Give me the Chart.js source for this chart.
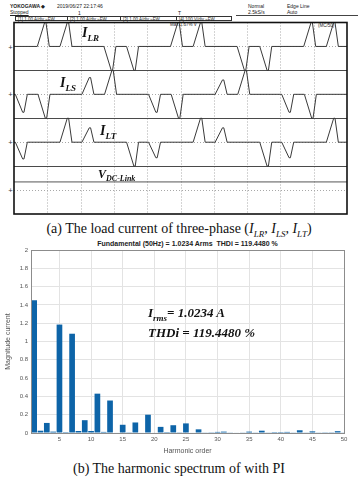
<!DOCTYPE html>
<html>
<head>
<meta charset="utf-8">
<script src="https://cdn.jsdelivr.net/npm/chart.js@4.4.0/dist/chart.umd.min.js"></script>
<style>
  html, body { margin: 0; padding: 0; background: #fff; }
  #page { position: relative; width: 358px; height: 480px; overflow: hidden; background: #fff; }
  .t { position: absolute; white-space: nowrap; line-height: 1; }
  .hdr { font-family: "Liberation Sans", Arial, sans-serif; font-size: 5px; color: #222; }
  .chbox { position: absolute; top: 16px; height: 5px; border: 1px solid #333; font-family: "Liberation Sans", Arial, sans-serif; font-size: 4.5px; line-height: 5px; padding-left: 2px; color: #222; white-space: nowrap; box-sizing: border-box; }
  .cap { font-family: "Liberation Serif", "Times New Roman", serif; font-size: 14px; color: #111; }
  .cap i sub { font-size: 9px; line-height: 0; }
  .lbl { font-family: "Liberation Serif", "Times New Roman", serif; font-weight: bold; font-style: italic; color: #111; font-size: 14px; }
  .lbl sub { font-size: 9px; line-height: 0; }
  .mk { font-family: "DejaVu Sans", sans-serif; font-size: 6px; color: #333; }
  canvas { position: absolute; }
</style>
</head>
<body>
<div id="page">
  <!-- oscilloscope header -->
  <div class="t hdr" style="left:10px;top:4px;font-weight:bold;">YOKOGAWA &#9670;</div>
  <div class="t hdr" style="left:57px;top:4px;">2019/06/27 22:17:46</div>
  <div class="t hdr" style="left:10px;top:10px;text-decoration:underline;">Stopped</div>
  <div class="t hdr" style="left:78px;top:11px;">1</div>
  <div class="t hdr" style="left:178px;top:11px;">T</div>
  <div class="t hdr" style="left:248px;top:4px;">Normal</div>
  <div class="t hdr" style="left:248px;top:10px;">2.5kS/s</div>
  <div class="t hdr" style="left:287px;top:4px;">Edge Line</div>
  <div class="t hdr" style="left:287px;top:10px;">Auto</div>
  <div style="position:absolute;left:236px;top:15px;width:122px;height:1px;background:#444;"></div>
  <div class="chbox" style="left:15px;width:53px;">[1] 1.00 A/div &#8776;FW</div>
  <div class="chbox" style="left:67px;width:54px;">[2] 1.00 A/div &#8776;FW</div>
  <div class="chbox" style="left:120px;width:57px;">[3] 1.00 A/div &#8776;FW</div>
  <div class="chbox" style="left:176px;width:56px;">[4] 100 V/div &#8776;FW</div>
  <div class="t hdr" style="left:170px;top:23px;font-size:4.5px;">Max 1.67% V</div>
  <div class="t hdr" style="left:318px;top:24px;font-size:4.5px;">(MC/50)</div>

  <div class="t mk" style="left:8px;top:44px;">+</div>
  <div class="t mk" style="left:8px;top:91px;">+</div>
  <div class="t mk" style="left:8px;top:139px;">+</div>
  <div class="t mk" style="left:8px;top:187px;">+</div>

  <canvas id="scope" width="336" height="195" style="left:13px;top:21px;"></canvas>

  <div class="t lbl" style="left:82px;top:26px;">I<sub>LR</sub></div>
  <div class="t lbl" style="left:60px;top:76px;">I<sub>LS</sub></div>
  <div class="t lbl" style="left:100px;top:124px;">I<sub>LT</sub></div>
  <div class="t lbl" style="left:98px;top:168px;font-size:12px;">V<sub style="font-size:8px;">DC-Link</sub></div>

  <div class="t cap" style="left:0;width:358px;text-align:center;top:222px;">(a) The load current of three-phase (<i>I<sub>LR</sub>, I<sub>LS</sub>, I<sub>LT</sub></i>)</div>

  <!-- harmonic spectrum -->
  <div class="t" style="left:31px;width:313px;text-align:center;top:240px;font-family:'Liberation Sans',Arial,sans-serif;font-weight:bold;font-size:7px;color:#222;">Fundamental (50Hz) = 1.0234 Arms&nbsp;&nbsp;THDi = 119.4480 %</div>
  <canvas id="spectrum" width="358" height="222" style="left:0;top:236px;"></canvas>
  <div class="t lbl" style="left:148px;top:306px;font-size:13px;">I<sub>rms</sub>= 1.0234 A</div>
  <div class="t lbl" style="left:148px;top:326px;font-size:13px;">THDi = 119.4480 %</div>

  <div class="t cap" style="left:0;width:358px;text-align:center;top:462px;">(b) The harmonic spectrum of with PI</div>
</div>

<script>
// ---- oscilloscope traces (time in ms, 5 ms/div; amplitude in screen divisions) ----
const ilrTime = [0, 3.5, 4.6, 4.8, 5.3, 6.9, 8.0, 8.2, 8.7, 13.5, 14.6, 14.8, 15.3, 16.9, 18.0, 18.2, 18.7,
  23.5, 24.6, 24.8, 25.3, 26.9, 28.0, 28.2, 28.7, 33.5, 34.6, 34.8, 35.3, 36.9, 38.0, 38.2, 38.7,
  43.5, 44.6, 44.8, 45.3, 46.9, 48.0, 48.2, 48.7, 50];
const ilrDiv = [7, 7, 8, 8, 7, 7, 8, 8, 7, 7, 6, 6, 7, 7, 6, 6, 7,
  7, 8, 8, 7, 7, 8, 8, 7, 7, 6, 6, 7, 7, 6, 6, 7,
  7, 8, 8, 7, 7, 8, 8, 7, 7];

const ilsTime = [0, 0.2, 1.3, 1.5, 2.0, 3.6, 4.7, 4.9, 5.4, 10.2, 11.3, 11.5, 12.0, 13.6, 14.7, 14.9, 15.4,
  20.2, 21.3, 21.5, 22.0, 23.6, 24.7, 24.9, 25.4, 30.2, 31.3, 31.5, 32.0, 33.6, 34.7, 34.9, 35.4,
  40.2, 41.3, 41.5, 42.0, 43.6, 44.7, 44.9, 45.4, 50];
const ilsDiv = [5, 5, 4.25, 4.25, 5, 5, 4, 4, 5, 5, 5.7, 5.7, 5, 5, 6, 6, 5,
  5, 4.25, 4.25, 5, 5, 4, 4, 5, 5, 5.6, 5.6, 5, 5, 6, 6, 5,
  5, 4.25, 4.25, 5, 5, 4, 4, 5, 5];

const iltTime = [0, 0.2, 1.3, 1.5, 2.0, 6.9, 8.0, 8.2, 8.7, 10.2, 11.3, 11.5, 12.0, 16.9, 18.0, 18.2, 18.7,
  20.2, 21.3, 21.5, 22.0, 26.9, 28.0, 28.2, 28.7, 30.2, 31.3, 31.5, 32.0, 36.9, 38.0, 38.2, 38.7,
  40.2, 41.3, 41.5, 42.0, 46.9, 48.0, 48.2, 48.7, 50];
const iltDiv = [3, 3, 2.3, 2.3, 3, 3, 4, 4, 3, 3, 3.6, 3.6, 3, 3, 2, 2, 3,
  3, 2.35, 2.35, 3, 3, 4, 4, 3, 3, 3.6, 3.6, 3, 3, 2, 2, 3,
  3, 2.35, 2.35, 3, 3, 4, 4, 3, 3];

const vdcTime = [0, 50];
const vdcDiv = [1.34, 1.34];

const zoneLines = [2, 4, 6];

// ---- harmonic spectrum ----
const harmonicOrder = [1, 2, 3, 4, 5, 6, 7, 8, 9, 10, 11, 12, 13, 14, 15, 16, 17, 18, 19, 20,
  21, 22, 23, 24, 25, 26, 27, 28, 29, 30, 31, 32, 33, 34, 35, 36, 37, 38, 39, 40,
  41, 42, 43, 44, 45, 46, 47, 48, 49, 50];
const magnitude = [1.45, 0.025, 0.11, 0.015, 1.185, 0.01, 1.085, 0.022, 0.14, 0.022,
  0.43, 0.012, 0.355, 0.005, 0.09, 0.008, 0.115, 0.005, 0.2, 0.005,
  0.067, 0.01, 0.085, 0.008, 0.105, 0.005, 0.04, 0.004, 0.008, 0.012,
  0.015, 0.004, 0.006, 0.004, 0.015, 0.004, 0.025, 0.004, 0.01, 0.01,
  0.012, 0.004, 0.03, 0.004, 0.018, 0.004, 0.008, 0.008, 0.02, 0.004];
const xTickValues = [5, 10, 15, 20, 25, 30, 35, 40, 45, 50];
const yTickValues = [0, 0.2, 0.4, 0.6, 0.8, 1, 1.2, 1.4, 1.6, 1.8, 2];

const toPoints = (xs, ys) => xs.map((x, i) => ({x: x, y: ys[i]}));

const traceStyle = {
  borderColor: '#3a3a3a',
  borderWidth: 1,
  pointRadius: 0,
  tension: 0,
  fill: false
};

// dotted scope graticule + split-zone lines + black frame
const scopeFrame = {
  id: 'scopeFrame',
  beforeDatasetsDraw(chart) {
    const {ctx, chartArea: a, scales: {x, y}} = chart;
    ctx.save();
    ctx.lineWidth = 1;
    ctx.strokeStyle = '#a8a8a8';
    ctx.setLineDash([1, 2]);
    for (let d = 1; d < 10; d++) {
      const px = Math.round(x.getPixelForValue(d * 5)) + 0.5;
      ctx.beginPath(); ctx.moveTo(px, a.top); ctx.lineTo(px, a.bottom); ctx.stroke();
    }
    for (let d = 1; d < 8; d++) {
      if (zoneLines.includes(d)) continue;
      const py = Math.round(y.getPixelForValue(d)) + 0.5;
      ctx.beginPath(); ctx.moveTo(a.left, py); ctx.lineTo(a.right, py); ctx.stroke();
    }
    ctx.setLineDash([]);
    ctx.strokeStyle = '#4a4a4a';
    zoneLines.forEach(d => {
      const py = Math.round(y.getPixelForValue(d)) + 0.5;
      ctx.beginPath(); ctx.moveTo(a.left, py); ctx.lineTo(a.right, py); ctx.stroke();
    });
    ctx.restore();
  },
  afterDraw(chart) {
    const {ctx, chartArea: a} = chart;
    ctx.save();
    ctx.strokeStyle = '#111';
    ctx.lineWidth = 1.6;
    ctx.strokeRect(a.left, a.top, a.right - a.left, a.bottom - a.top);
    ctx.restore();
  }
};

new Chart(document.getElementById('scope'), {
  type: 'line',
  data: {
    datasets: [
      {label: 'ILR', data: toPoints(ilrTime, ilrDiv), ...traceStyle},
      {label: 'ILS', data: toPoints(ilsTime, ilsDiv), ...traceStyle},
      {label: 'ILT', data: toPoints(iltTime, iltDiv), ...traceStyle},
      {label: 'VDC', data: toPoints(vdcTime, vdcDiv), ...traceStyle, borderColor: '#555'}
    ]
  },
  options: {
    responsive: false,
    animation: false,
    layout: {padding: {left: 1, right: 2, top: 1.5, bottom: 2}},
    plugins: {legend: {display: false}, tooltip: {enabled: false}},
    scales: {
      x: {type: 'linear', min: 0, max: 50, display: false},
      y: {type: 'linear', min: 0, max: 8, display: false}
    }
  },
  plugins: [scopeFrame]
});

// box round the spectrum axes, MATLAB style
const axesBox = {
  id: 'axesBox',
  afterDraw(chart) {
    const {ctx, chartArea: a} = chart;
    ctx.save();
    ctx.strokeStyle = '#8c8c8c';
    ctx.lineWidth = 1;
    ctx.strokeRect(Math.round(a.left) + 0.5, Math.round(a.top) + 0.5,
      Math.round(a.right - a.left), Math.round(a.bottom - a.top));
    ctx.restore();
  }
};

const tickFont = {family: "'Liberation Sans', Arial, sans-serif", size: 6};

new Chart(document.getElementById('spectrum'), {
  type: 'bar',
  data: {
    datasets: [{
      data: toPoints(harmonicOrder, magnitude),
      backgroundColor: '#0d64a8',
      borderWidth: 0,
      barPercentage: 0.9,
      categoryPercentage: 1
    }]
  },
  options: {
    responsive: false,
    animation: false,
    layout: {padding: {left: 4, right: 14, top: 14, bottom: 0}},
    plugins: {legend: {display: false}, tooltip: {enabled: false}},
    scales: {
      x: {
        type: 'linear',
        min: 0.5,
        max: 50,
        offset: false,
        afterBuildTicks: s => { s.ticks = xTickValues.map(v => ({value: v})); },
        afterFit: s => { s.height = 25; },
        ticks: {font: tickFont, color: '#555', padding: 3, autoSkip: false, maxRotation: 0},
        grid: {color: '#e3e3e3', drawTicks: false, offset: false},
        border: {display: false},
        title: {display: true, text: 'Harmonic order', color: '#555',
          font: {family: "'Liberation Sans', Arial, sans-serif", size: 7}, padding: {top: 0, bottom: 3}}
      },
      y: {
        min: 0,
        max: 2,
        afterBuildTicks: s => { s.ticks = yTickValues.map(v => ({value: v})); },
        afterFit: s => { s.width = 27; },
        ticks: {font: tickFont, color: '#555', padding: 3, callback: v => String(v)},
        grid: {color: '#e3e3e3', drawTicks: false},
        border: {display: false},
        title: {display: true, text: 'Magnitude current', color: '#555',
          font: {family: "'Liberation Sans', Arial, sans-serif", size: 7}, padding: {top: 0, bottom: 2}}
      }
    }
  },
  plugins: [axesBox]
});
</script>
</body>
</html>
